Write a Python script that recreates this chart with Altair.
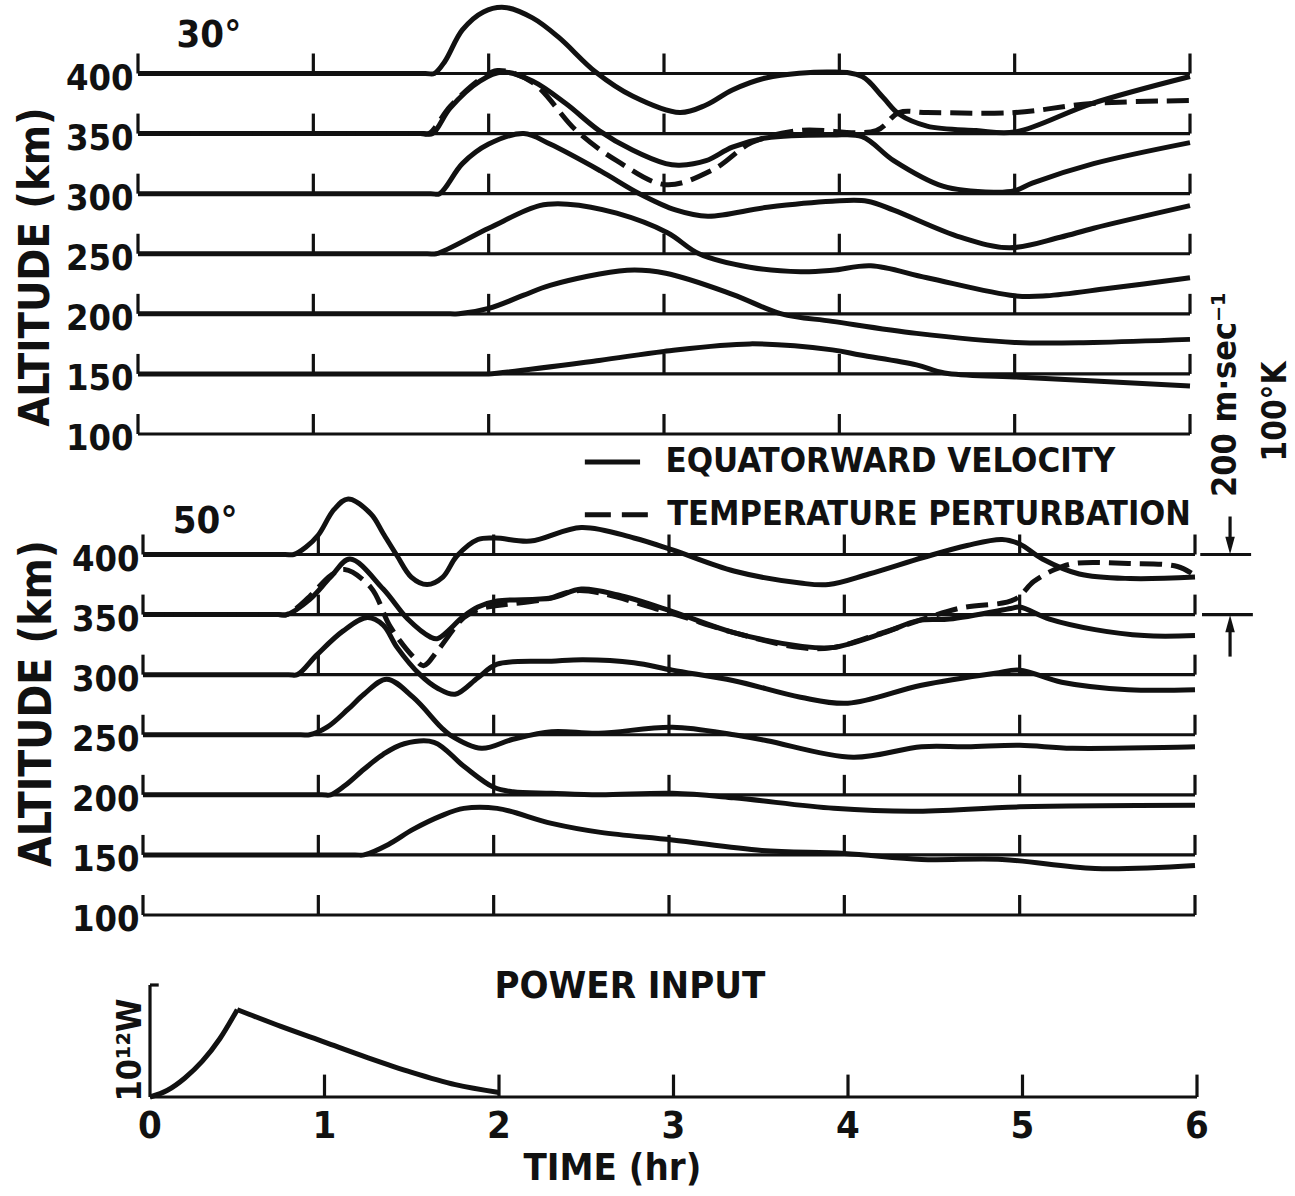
import altair as alt
import pandas as pd

# ------------------------------------------------------------------ data
HOURS = [0, 1, 2, 3, 4, 5, 6]
ALTITUDES = [100, 150, 200, 250, 300, 350, 400]

# 30 deg latitude: equatorward velocity perturbation (m/s), per altitude
T30_400 = [0, 1.64, 1.69, 1.75, 1.85, 1.97, 2.09, 2.25, 2.4, 2.61, 2.82, 3.09, 3.24, 3.39, 3.58, 3.96, 4.13, 4.25, 4.34, 4.5, 4.78, 5.0, 5.44, 6.0]
V30_400 = [0, 0, 0, 40, 145, 205, 220, 185, 120, 5, -75, -130, -105, -55, -15, 5, -10, -80, -135, -175, -190, -195, -100, -10]
T30_350 = [0, 1.63, 1.68, 1.78, 1.95, 2.08, 2.25, 2.44, 2.63, 2.82, 3.01, 3.09, 3.24, 3.39, 3.58, 3.96, 4.13, 4.31, 4.59, 4.88, 5.0, 5.1, 5.45, 6.0]
V30_350 = [0, 0, 0, 85, 175, 205, 175, 100, 10, -55, -100, -105, -90, -45, -15, -5, -10, -90, -175, -195, -190, -165, -100, -30]
T30_300 = [0, 1.67, 1.72, 1.85, 2.0, 2.2, 2.35, 2.64, 2.86, 3.07, 3.25, 3.59, 3.96, 4.16, 4.31, 4.69, 4.97, 5.26, 5.45, 6.0]
V30_300 = [0, 0, 0, 100, 165, 200, 165, 75, 0, -55, -75, -45, -25, -25, -55, -145, -180, -145, -115, -40]
T30_250 = [0, 1.65, 1.7, 2.0, 2.29, 2.45, 2.73, 3.02, 3.2, 3.49, 3.78, 3.96, 4.18, 4.5, 5.0, 5.18, 5.54, 6.0]
V30_250 = [0, 0, 0, 85, 160, 165, 135, 70, 0, -45, -60, -55, -40, -80, -140, -140, -115, -80]
T30_200 = [0, 1.78, 1.83, 2.0, 2.2, 2.35, 2.79, 3.01, 3.39, 3.67, 3.96, 4.44, 5.0, 5.45, 6.0]
V30_200 = [0, 0, 0, 18, 62, 95, 145, 135, 65, 0, -25, -65, -95, -95, -85]
T30_150 = [0, 1.95, 2.0, 2.63, 3.0, 3.49, 3.96, 4.12, 4.44, 4.6, 5.0, 6.0]
V30_150 = [0, 0, 0, 45, 75, 100, 80, 63, 30, 3, -10, -40]
# 30 deg latitude: temperature perturbation (K) at 350 km
TT30_350 = [0, 1.61, 1.66, 1.78, 1.95, 2.05, 2.25, 2.5, 2.73, 3.01, 3.28, 3.5, 3.77, 4.21, 4.34, 4.5, 5.0, 5.44, 6.0]
DT30_350 = [0, 0, 0, 45, 90, 105, 85, 5, -45, -85, -60, -15, 5, 5, 35, 35, 35, 50, 55]

# 50 deg latitude: equatorward velocity perturbation (m/s), per altitude
T50_400 = [0, 0.81, 0.86, 0.93, 1.0, 1.09, 1.17, 1.3, 1.37, 1.45, 1.53, 1.62, 1.71, 1.79, 1.91, 2.01, 2.21, 2.5, 2.8, 3.02, 3.37, 3.75, 3.91, 4.14, 4.45, 4.7, 4.9, 5.0, 5.13, 5.34, 5.63, 6.0]
V50_400 = [0, 0, 0, 25, 65, 150, 185, 135, 70, -5, -75, -100, -75, -5, 50, 55, 45, 90, 55, 15, -55, -95, -100, -65, -10, 30, 50, 35, -15, -65, -80, -75]
T50_350 = [0, 0.77, 0.82, 0.95, 1.07, 1.18, 1.37, 1.51, 1.64, 1.68, 1.83, 1.91, 2.02, 2.33, 2.5, 2.71, 3.02, 3.37, 3.75, 3.93, 4.23, 4.42, 4.6, 4.95, 5.0, 5.17, 5.43, 5.71, 6.0]
V50_350 = [0, 0, 0, 50, 125, 185, 85, -15, -75, -80, -5, 25, 45, 55, 85, 65, 10, -60, -105, -110, -60, -20, -15, 20, 25, -15, -50, -70, -70]
T50_300 = [0, 0.83, 0.88, 0.99, 1.14, 1.28, 1.37, 1.45, 1.58, 1.68, 1.78, 1.91, 2.02, 2.33, 2.51, 2.8, 3.02, 3.37, 3.75, 4.02, 4.44, 4.86, 5.0, 5.24, 5.62, 6.0]
V50_300 = [0, 0, 0, 65, 145, 190, 165, 90, 0, -45, -65, -10, 35, 45, 50, 40, 15, -20, -75, -95, -35, 5, 15, -25, -50, -50]
T50_250 = [0, 0.9, 0.95, 1.05, 1.17, 1.26, 1.39, 1.54, 1.7, 1.75, 1.93, 2.11, 2.33, 2.6, 3.02, 3.37, 3.56, 4.05, 4.44, 4.7, 5.0, 5.3, 6.0]
V50_250 = [0, 0, 0, 25, 85, 135, 185, 125, 25, 0, -45, -15, 10, 5, 25, 0, -20, -75, -40, -40, -35, -45, -40]
T50_200 = [0, 1.02, 1.07, 1.15, 1.26, 1.37, 1.49, 1.66, 1.83, 2.0, 2.11, 2.33, 2.6, 3.02, 3.37, 3.94, 4.39, 5.0, 6.0]
V50_200 = [0, 0, 0, 30, 85, 135, 170, 175, 95, 25, 10, 5, 0, 5, -10, -45, -55, -40, -35]
T50_150 = [0, 1.21, 1.26, 1.4, 1.54, 1.7, 1.83, 2.02, 2.33, 2.61, 3.02, 3.53, 4.0, 4.44, 4.9, 5.43, 6.0]
V50_150 = [0, 0, 0, 35, 85, 130, 155, 155, 105, 75, 50, 15, 5, -15, -15, -45, -35]
# 50 deg latitude: temperature perturbation (K) at 350 km
TT50_350 = [0, 0.77, 0.82, 0.95, 1.07, 1.15, 1.3, 1.41, 1.54, 1.6, 1.68, 1.83, 1.93, 2.02, 2.29, 2.49, 2.98, 3.37, 3.75, 3.93, 4.22, 4.65, 4.97, 5.08, 5.2, 5.31, 5.62, 5.9, 6.0]
DT50_350 = [0, 0, 0, 30, 65, 75, 45, -20, -70, -85, -60, -5, 10, 15, 25, 40, 5, -30, -55, -55, -30, 10, 25, 55, 75, 85, 85, 80, 65]

# Power input (units of 10^12 W)
TP_RISE = [0, 0.1, 0.2, 0.3, 0.4, 0.5]
P_RISE = [0, 0.06, 0.17, 0.32, 0.52, 0.78]
TP_FALL = [0.5, 0.75, 1.0, 1.25, 1.5, 1.75, 2.0]
P_FALL = [0.78, 0.63, 0.49, 0.35, 0.22, 0.11, 0.04]

# ------------------------------------------------------------------ layout / style
W, H = 1295, 1196
KM_PX = 1.2017              # pixels per km on the altitude panels
VEL_KM = 50.0 / 200.0       # 200 m/s drawn as 50 km
TEMP_KM = 50.0 / 100.0      # 100 K drawn as 50 km
TICK_KM = 20 / KM_PX
INK = "#111111"
FONT = "DejaVu Sans Condensed, Liberation Sans Narrow, DejaVu Sans, sans-serif"
CURVE_W = 5
RULE_W = 3.2


def xscale(x0, x6):
    k = (x6 - x0) / 6.0
    return alt.Scale(domain=[-x0 / k, (W - x0) / k], nice=False, zero=False)


def yscale(ref, ref_px, px_per_unit):
    return alt.Scale(domain=[ref - (H - ref_px) / px_per_unit, ref + ref_px / px_per_unit],
                     nice=False, zero=False)


def XQ(f, sc):
    return alt.X(f, type="quantitative", scale=sc, axis=None)


def YQ(f, sc):
    return alt.Y(f, type="quantitative", scale=sc, axis=None)


def curve_frame(series, factor):
    rows = []
    for a, (ts, vs) in series.items():
        for t, v in zip(ts, vs):
            rows.append({"series": str(a), "t": t, "y": a + v * factor})
    return pd.DataFrame(rows)


def note(xs, ys, t, y, text, **props):
    df = pd.DataFrame({"t": [t], "y": [y], "label": [text]})
    p = dict(font=FONT, fontWeight="bold", color=INK, fontSize=36, align="center",
             baseline="middle")
    p.update(props)
    return alt.Chart(df).mark_text(**p).encode(x=XQ("t", xs), y=YQ("y", ys), text="label:N")


def seg(xs, ys, t0, t1, y0, y1, **props):
    df = pd.DataFrame({"t0": [t0], "t1": [t1], "y0": [y0], "y1": [y1]})
    p = dict(color=INK, strokeWidth=RULE_W)
    p.update(props)
    enc = dict(x=XQ("t0", xs), y=YQ("y0", ys))
    if t1 != t0:
        enc["x2"] = "t1"
    if y1 != y0:
        enc["y2"] = "y1"
    return alt.Chart(df).mark_rule(**p).encode(**enc)


def altitude_panel(xs, ys, vel, temp, lat_text, lat_t, lat_y, title_t, title_y, title_size,
                   label_t):
    base_df = pd.DataFrame({"alt": ALTITUDES, "t0": HOURS[0], "t1": HOURS[-1]})
    tick_df = pd.DataFrame([{"t": h, "alt": a, "top": a + TICK_KM} for a in ALTITUDES for h in HOURS])
    lab_df = pd.DataFrame({"alt": ALTITUDES, "label": [str(a) for a in ALTITUDES], "t": label_t})
    vel_df = curve_frame(vel, VEL_KM)
    temp_df = curve_frame(temp, TEMP_KM)
    return [
        alt.Chart(base_df).mark_rule(color=INK, strokeWidth=RULE_W).encode(
            x=XQ("t0", xs), x2="t1", y=YQ("alt", ys)),
        alt.Chart(tick_df).mark_rule(color=INK, strokeWidth=RULE_W).encode(
            x=XQ("t", xs), y=YQ("alt", ys), y2="top"),
        alt.Chart(vel_df).mark_line(color=INK, strokeWidth=CURVE_W,
                                    interpolate="catmull-rom").encode(
            x=XQ("t", xs), y=YQ("y", ys), detail="series:N"),
        alt.Chart(temp_df).mark_line(color=INK, strokeWidth=CURVE_W, strokeDash=[22, 9],
                                     interpolate="catmull-rom").encode(
            x=XQ("t", xs), y=YQ("y", ys), detail="series:N"),
        alt.Chart(lab_df).mark_text(font=FONT, fontWeight="bold", fontSize=36, align="right",
                                    baseline="middle", dy=5, color=INK).encode(
            x=XQ("t", xs), y=YQ("alt", ys), text="label:N"),
        note(xs, ys, lat_t, lat_y, lat_text, align="left", fontSize=38),
        note(xs, ys, title_t, title_y, "ALTITUDE (km)", angle=270, fontSize=title_size),
    ]


# ---------------- top panel (30 deg)
xs30 = xscale(138, 1190)
ys30 = yscale(400, 73.5, KM_PX)
vel30 = {400: (T30_400, V30_400), 350: (T30_350, V30_350), 300: (T30_300, V30_300),
         250: (T30_250, V30_250), 200: (T30_200, V30_200), 150: (T30_150, V30_150)}
temp30 = {350: (TT30_350, DT30_350)}
top = alt.layer(*altitude_panel(xs30, ys30, vel30, temp30, "30°", 0.22, 431,
                                -0.58, 239, 43, -0.025))

# ---------------- middle panel (50 deg) with legend and scale bar
xs50 = xscale(143, 1195)
ys50 = yscale(400, 554.5, KM_PX)
vel50 = {400: (T50_400, V50_400), 350: (T50_350, V50_350), 300: (T50_300, V50_300),
         250: (T50_250, V50_250), 200: (T50_200, V50_200), 150: (T50_150, V50_150)}
temp50 = {350: (TT50_350, DT50_350)}
mid_layers = altitude_panel(xs50, ys50, vel50, temp50, "50°", 0.17, 427,
                            -0.6, 276, 44, -0.02)
# legend
mid_layers += [
    seg(xs50, ys50, 2.52, 2.835, 477, 477, strokeWidth=CURVE_W),
    seg(xs50, ys50, 2.52, 2.89, 433, 433, strokeWidth=CURVE_W, strokeDash=[26, 11]),
    note(xs50, ys50, 2.98, 477, "EQUATORWARD VELOCITY", align="left", fontSize=34.5),
    note(xs50, ys50, 2.99, 433, "TEMPERATURE PERTURBATION", align="left", fontSize=34),
]
# scale bar: 200 m/s = 100 K = 50 km
ARROW_DOWN = "M -0.55 -1 L 0.55 -1 L 0 1 Z"
ARROW_UP = "M -0.55 1 L 0.55 1 L 0 -1 Z"
heads = pd.DataFrame({"t": [6.2, 6.2], "y": [400 + 9 / KM_PX, 350 - 9 / KM_PX], "dir": ["d", "u"]})
mid_layers += [
    seg(xs50, ys50, 6.03, 6.32, 400, 400),
    seg(xs50, ys50, 6.04, 6.33, 350, 350),
    seg(xs50, ys50, 6.2, 6.2, 400 + 38 / KM_PX, 400 + 10 / KM_PX),
    seg(xs50, ys50, 6.2, 6.2, 350 - 42 / KM_PX, 350 - 10 / KM_PX),
    alt.Chart(heads[heads["dir"] == "d"]).mark_point(shape=ARROW_DOWN, filled=True, size=300,
                                                     color=INK, opacity=1, strokeWidth=0).encode(
        x=XQ("t", xs50), y=YQ("y", ys50)),
    alt.Chart(heads[heads["dir"] == "u"]).mark_point(shape=ARROW_UP, filled=True, size=300,
                                                     color=INK, opacity=1, strokeWidth=0).encode(
        x=XQ("t", xs50), y=YQ("y", ys50)),
    note(xs50, ys50, 6.177, 533, "200 m·sec⁻¹", angle=270, fontSize=34),
    note(xs50, ys50, 6.462, 519, "100°K", angle=270, fontSize=33),
]
mid = alt.layer(*mid_layers)

# ---------------- bottom panel (power input)
xsP = xscale(150, 1197)
ysP = yscale(0, 1097, 112)
rise_df = pd.DataFrame({"t": TP_RISE, "p": P_RISE})
fall_df = pd.DataFrame({"t": TP_FALL, "p": P_FALL})
ptick_df = pd.DataFrame({"t": HOURS[1:], "y0": 0.0, "y1": 0.2})
plab_df = pd.DataFrame({"t": HOURS, "label": [str(h) for h in HOURS], "y": -0.27})
bot = alt.layer(
    seg(xsP, ysP, 0, 6, 0, 0),
    seg(xsP, ysP, 0, 0, 0, 1.0),
    seg(xsP, ysP, 0, 0.05, 1.0, 1.0),
    alt.Chart(ptick_df).mark_rule(color=INK, strokeWidth=RULE_W).encode(
        x=XQ("t", xsP), y=YQ("y0", ysP), y2="y1"),
    alt.Chart(rise_df).mark_line(color=INK, strokeWidth=CURVE_W, interpolate="monotone").encode(
        x=XQ("t", xsP), y=YQ("p", ysP)),
    alt.Chart(fall_df).mark_line(color=INK, strokeWidth=CURVE_W, interpolate="monotone").encode(
        x=XQ("t", xsP), y=YQ("p", ysP)),
    alt.Chart(plab_df).mark_text(font=FONT, fontWeight="bold", fontSize=38, color=INK,
                                 align="center", baseline="middle").encode(
        x=XQ("t", xsP), y=YQ("y", ysP), text="label:N"),
    note(xsP, ysP, 2.65, -0.64, "TIME (hr)", fontSize=38),
    note(xsP, ysP, 2.75, 0.98, "POWER INPUT", fontSize=38),
    note(xsP, ysP, -0.11, 0.42, "10¹²W", angle=270, fontSize=34),
)

chart = alt.layer(top, mid, bot).resolve_scale(x="independent", y="independent").properties(
    width=W, height=H,
    autosize=alt.AutoSizeParams(type="none"),
    padding={"left": 0, "top": 0, "right": 0, "bottom": 0},
    background="white",
).configure_view(stroke=None)

chart.save("out.html", embed_options={"renderer": "svg", "actions": False})
